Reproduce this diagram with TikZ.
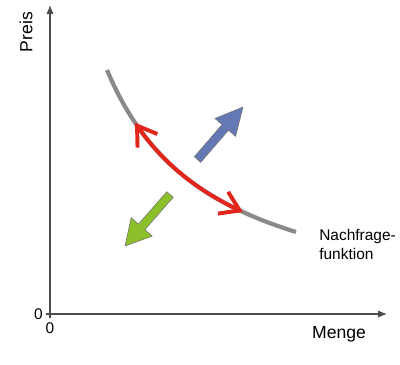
\documentclass[tikz,border=0pt]{standalone}
\usepackage{fontspec}
\setmainfont{Liberation Sans}
\usetikzlibrary{arrows.meta}
\definecolor{kurvegrau}{HTML}{8A8A8A}
\definecolor{pfeilrot}{HTML}{E2261C}
\definecolor{pfeilblau}{HTML}{6479B4}
\definecolor{pfeilgruen}{HTML}{8CC02A}
\begin{document}
\begin{tikzpicture}[x=0.025cm, y=-0.025cm,
  achse/.style={draw=black!70, line width=0.8pt, -{Latex[length=2.2mm, width=1.8mm]}},
  beschr/.style={font=\fontsize{12.5}{14}\selectfont, inner sep=0pt},
  klein/.style={font=\fontsize{11}{13}\selectfont, inner sep=0pt},
  block/.style={draw=black!55, line width=0.4pt, line join=miter}]
  \useasboundingbox (0,0) rectangle (400,364);
  % Achsen
  \coordinate (o) at (50,314);
  \coordinate (ytop) at (50,5);
  \coordinate (xend) at (387,314);
  \coordinate (ytick) at (50,318);
  \coordinate (xtick) at (46,314);
  \draw[achse] (ytick) -- (ytop);
  \draw[achse] (xtick) -- (xend);
  \node[beschr, rotate=90] (preis) at (26,32) {Preis};
  \node[beschr] (menge) at (339,334) {Menge};
  \node[klein] (nully) at (38.5,314) {0};
  \node[klein] (nullx) at (50,328) {0};
  % Nachfragefunktion
  \draw[kurvegrau, line width=3pt] plot[domain=107:296, samples=60] (\x, {323.7-271.45/(\x/100)});
  \draw[pfeilrot, line width=2.8pt, {Straight Barb[length=4.6mm, width=6mm]}-{Straight Barb[length=4.6mm, width=6mm]}]
    plot[domain=135:243, samples=40] (\x, {323.7-271.45/(\x/100)});
  \node[klein, font=\fontsize{11}{13.5}\selectfont, anchor=north west, align=left] (nachfrage) at (319,229) {Nachfrage-\\funktion};
  % Verschiebungen
  \draw[block, fill=pfeilblau] (194.3,156.7) -- (222.1,124.6) -- (215.0,118.5) -- (243,107)
    -- (235.6,136.3) -- (228.5,130.2) -- (200.7,162.3) -- cycle;
  \draw[block, fill=pfeilgruen] (166.8,191.7) -- (138.5,224.1) -- (131.2,217.7) -- (125,246)
    -- (152.2,236.1) -- (144.9,229.7) -- (173.2,197.3) -- cycle;
\end{tikzpicture}
\end{document}
